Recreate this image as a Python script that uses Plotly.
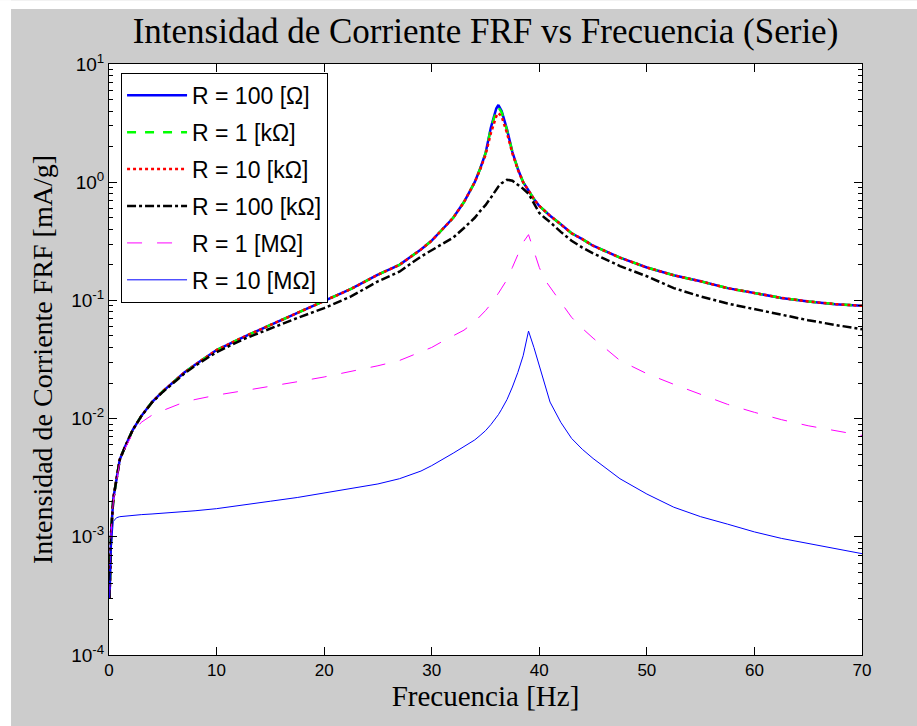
import plotly.graph_objects as go

# Frequency grid [Hz]
freq = [0.05, 0.2, 0.4, 0.7, 1.0, 1.5, 2.2, 3, 4, 5, 6, 7, 8, 10, 12.5, 15, 17.5, 20,
        22.5, 25, 27, 29, 30, 31, 32, 33, 34, 34.5, 35, 35.5, 36, 36.2, 36.5, 37, 37.5,
        38, 38.5, 39, 39.5, 40, 40.5, 41, 42, 43, 44, 45, 47.5, 50, 52.5, 55, 57.5, 60,
        62.5, 65, 67.5, 70]

r_100 = [3.0e-4, 1.1e-3, 2.1e-3, 3.0e-3, 4.5e-3, 5.8e-3, 8.0e-3, 1.05e-2, 1.38e-2, 1.7e-2,
         2.05e-2, 2.45e-2, 2.85e-2, 3.8e-2, 4.9e-2, 6.2e-2, 7.8e-2, 9.8e-2,
         0.125, 0.165, 0.20, 0.27, 0.32, 0.40, 0.50, 0.68, 1.0, 1.3, 1.75, 2.9, 4.2, 4.5, 4.0, 2.8, 1.8,
         1.3, 1.0, 0.85, 0.72, 0.63, 0.57, 0.52, 0.44, 0.37, 0.33, 0.29, 0.23, 0.19, 0.163, 0.145, 0.127, 0.115,
         0.105, 0.098, 0.093, 0.090]

r_1k = [3.0e-4, 1.1e-3, 2.1e-3, 3.0e-3, 4.5e-3, 5.8e-3, 8.0e-3, 1.05e-2, 1.38e-2, 1.7e-2,
        2.05e-2, 2.45e-2, 2.85e-2, 3.8e-2, 4.9e-2, 6.2e-2, 7.8e-2, 9.8e-2,
        0.125, 0.165, 0.20, 0.27, 0.32, 0.40, 0.50, 0.68, 1.0, 1.3, 1.75, 2.85, 4.0, 4.3, 3.9, 2.75, 1.8,
        1.3, 1.0, 0.85, 0.72, 0.63, 0.57, 0.52, 0.44, 0.37, 0.33, 0.29, 0.23, 0.19, 0.163, 0.145, 0.127, 0.115,
        0.105, 0.098, 0.093, 0.090]

r_10k = [3.0e-4, 1.1e-3, 2.1e-3, 3.0e-3, 4.5e-3, 5.8e-3, 8.0e-3, 1.05e-2, 1.38e-2, 1.7e-2,
         2.05e-2, 2.45e-2, 2.85e-2, 3.8e-2, 4.9e-2, 6.2e-2, 7.8e-2, 9.8e-2,
         0.125, 0.165, 0.20, 0.27, 0.32, 0.40, 0.50, 0.68, 1.0, 1.28, 1.7, 2.6, 3.6, 3.85, 3.6, 2.6, 1.75,
         1.28, 1.0, 0.85, 0.72, 0.63, 0.57, 0.52, 0.44, 0.37, 0.33, 0.29, 0.23, 0.19, 0.163, 0.145, 0.127, 0.115,
         0.105, 0.098, 0.093, 0.090]

r_100k = [3.0e-4, 1.1e-3, 2.1e-3, 3.0e-3, 4.5e-3, 5.8e-3, 8.0e-3, 1.05e-2, 1.37e-2, 1.68e-2,
          2.0e-2, 2.4e-2, 2.8e-2, 3.65e-2, 4.7e-2, 5.8e-2, 7.1e-2, 8.6e-2,
          0.108, 0.145, 0.175, 0.235, 0.265, 0.30, 0.34, 0.41, 0.50, 0.57, 0.64, 0.74, 0.86, 0.92, 0.98, 1.05, 1.03,
          0.96, 0.88, 0.80, 0.66, 0.55, 0.50, 0.46, 0.38, 0.32, 0.28, 0.25, 0.195, 0.16, 0.127, 0.108, 0.094, 0.084,
          0.075, 0.068, 0.062, 0.057]

r_1M = [3.0e-4, 1.1e-3, 2.0e-3, 3.0e-3, 4.3e-3, 5.6e-3, 7.5e-3, 9.3e-3, 1.07e-2, 1.17e-2,
        1.28e-2, 1.38e-2, 1.45e-2, 1.58e-2, 1.72e-2, 1.87e-2, 2.05e-2, 2.25e-2,
        2.5e-2, 2.8e-2, 3.1e-2, 3.7e-2, 4.0e-2, 4.5e-2, 5.0e-2, 5.6e-2, 6.6e-2, 7.3e-2, 8.2e-2, 9.3e-2, 0.107, 0.115, 0.127, 0.150, 0.19,
        0.245, 0.31, 0.36, 0.26, 0.19, 0.15, 0.13, 0.098, 0.072, 0.058, 0.048, 0.031, 0.024, 0.0195, 0.016, 0.0132, 0.0113,
        0.0098, 0.0087, 0.0079, 0.0072]

r_10M = [3.0e-4, 8.0e-4, 1.35e-3, 1.45e-3, 1.48e-3, 1.5e-3, 1.52e-3, 1.54e-3, 1.56e-3, 1.58e-3,
         1.6e-3, 1.63e-3, 1.66e-3, 1.73e-3, 1.85e-3, 2.0e-3, 2.15e-3, 2.35e-3,
         2.55e-3, 2.8e-3, 3.1e-3, 3.6e-3, 4.0e-3, 4.5e-3, 5.1e-3, 5.8e-3, 6.6e-3, 7.2e-3, 7.9e-3, 8.9e-3, 1.02e-2, 1.08e-2, 1.2e-2, 1.45e-2, 1.85e-2,
         2.45e-2, 3.4e-2, 5.5e-2, 4.0e-2, 2.8e-2, 1.9e-2, 1.38e-2, 9.3e-3, 6.8e-3, 5.5e-3, 4.6e-3, 3.1e-3, 2.3e-3, 1.78e-3, 1.48e-3, 1.28e-3, 1.10e-3,
         9.7e-4, 8.8e-4, 7.9e-4, 7.2e-4]

names = ["R = 100 [\u03a9]", "R = 1 [k\u03a9]", "R = 10 [k\u03a9]",
         "R = 100 [k\u03a9]", "R = 1 [M\u03a9]", "R = 10 [M\u03a9]"]
series = [r_100, r_1k, r_10k, r_100k, r_1M, r_10M]
colors = ["#0000ff", "#00ff00", "#ff0000", "#000000", "#ff00ff", "#0000ff"]
dashes = ["solid", "dash", "dot", "dashdot", "longdash", "solid"]
widths = [2.5, 2.5, 2.5, 2.5, 1, 1]

y_tickvals = [1e-4, 1e-3, 1e-2, 1e-1, 1, 10]
y_ticktext = ["10<sup>-4</sup>", "10<sup>-3</sup>", "10<sup>-2</sup>",
              "10<sup>-1</sup>", "10<sup>0</sup>", "10<sup>1</sup>"]
y_minor = [m * 10.0 ** e for e in range(-4, 1) for m in range(2, 10)]

fig = go.Figure()
for i, (n, s, c, d, w) in enumerate(zip(names, series, colors, dashes, widths)):
    fig.add_trace(go.Scatter(x=freq, y=s, mode="lines", name=n, legendgroup=f"g{i}",
                             line=dict(color=c, dash=d, width=w)))

axis_common = dict(showline=True, linecolor="black", linewidth=1, mirror="ticks",
                   ticks="inside", ticklen=8, tickcolor="black", showgrid=False,
                   zeroline=False)

fig.update_layout(
    width=917, height=726,
    paper_bgcolor="#cccccc", plot_bgcolor="white",
    margin=dict(l=109, r=55, t=64, b=71),
    title=dict(text="Intensidad de Corriente FRF vs Frecuencia (Serie)",
               font=dict(family="Liberation Serif, Times New Roman", size=35, color="black"),
               x=0.5, xref="paper", y=0.958, yanchor="middle"),
    xaxis=dict(range=[0, 70], dtick=10, tick0=0,
               tickfont=dict(family="Liberation Sans Narrow, Liberation Sans, Arial", size=17, color="black"),
               title=dict(text="Frecuencia [Hz]", standoff=4,
                          font=dict(family="Liberation Serif, Times New Roman", size=29, color="black")),
               **axis_common),
    yaxis=dict(type="log", range=[-4, 1], tickmode="array",
               tickvals=y_tickvals, ticktext=y_ticktext,
               tickfont=dict(family="Liberation Sans, Arial", size=19, color="black"),
               minor=dict(tickmode="array", tickvals=y_minor, ticks="inside", ticklen=4,
                          tickcolor="black", showgrid=False),
               title=dict(text="Intensidad de Corriente FRF [mA/g]", standoff=10,
                          font=dict(family="Liberation Serif, Times New Roman", size=28, color="black")),
               **axis_common),
    legend=dict(x=0.016, y=0.985, xanchor="left", yanchor="top",
                bgcolor="white", bordercolor="black", borderwidth=1,
                font=dict(family="Liberation Sans, Arial", size=23, color="black"),
                itemwidth=60, tracegroupgap=4),
    showlegend=True,
    shapes=[
        dict(type="rect", xref="paper", yref="paper", x0=-0.1448, x1=-0.1301, y0=-0.121, y1=1.108,
             fillcolor="white", line=dict(width=0), layer="below"),
        dict(type="rect", xref="paper", yref="paper", x0=-0.1448, x1=1.074, y0=1.093, y1=1.108,
             fillcolor="white", line=dict(width=0), layer="below"),
    ],
)

fig.write_html("out.html")
